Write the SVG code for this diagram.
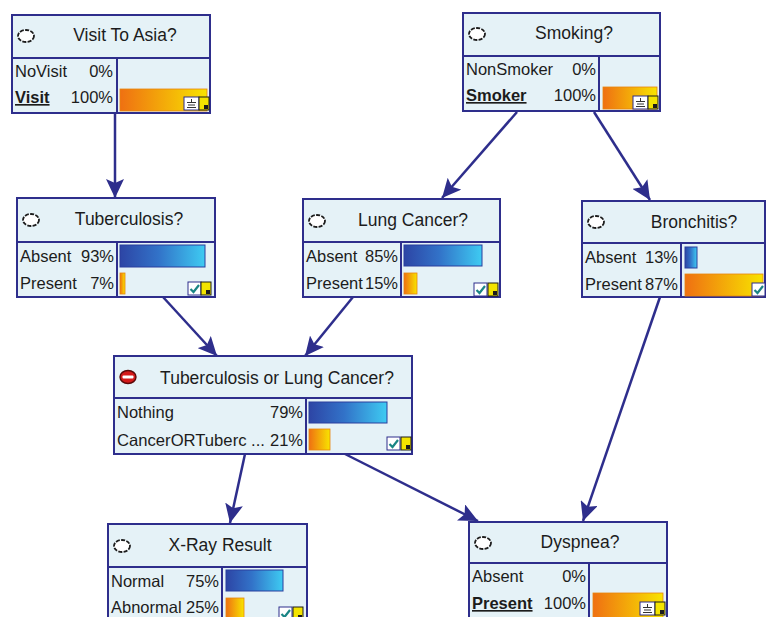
<svg xmlns="http://www.w3.org/2000/svg" width="766" height="617" viewBox="0 0 766 617">
  <style>
    .box { fill: #e5f2f7; stroke: #2e2e8c; stroke-width: 2; }
    .div { stroke: #2e2e8c; stroke-width: 2; fill: none; }
    text { font-family: "Liberation Sans", Arial, sans-serif; font-size: 16.5px; fill: #1c1c1c; }
    .title { text-anchor: middle; font-size: 17.5px; }
    .pct { text-anchor: end; }
    .sel { font-weight: bold; text-decoration: underline; }
    .blue { fill: url(#gBlue); stroke: #2a3e9e; stroke-width: 1; }
    .orange { fill: url(#gOrange); stroke: #e8860e; stroke-width: 0.8; }
    .state { fill: #ffffff; stroke: #1c1c1c; stroke-width: 1.8; stroke-dasharray: 4 1.3; }
    .ibox { fill: #ffffff; stroke: #2e2e8c; stroke-width: 1; }
    .ylw { fill: #f3e400; stroke: #1c1c1c; stroke-width: 1; }
    .tick { fill: none; stroke: #1a8585; stroke-width: 2.2; }
    .gnd { stroke: #333; stroke-width: 1; fill: none; }
    .edge { stroke: #2e2e8c; stroke-width: 2.5; fill: none; marker-end: url(#arrow); }
  </style>
  <defs>
    <linearGradient id="gBlue" x1="0" y1="0" x2="1" y2="0">
      <stop offset="0" stop-color="#2d45a5"/>
      <stop offset="0.45" stop-color="#3272c8"/>
      <stop offset="1" stop-color="#3ecbf2"/>
    </linearGradient>
    <linearGradient id="gOrange" x1="0" y1="0" x2="1" y2="0">
      <stop offset="0" stop-color="#ef7012"/>
      <stop offset="1" stop-color="#f8e400"/>
    </linearGradient>
    <marker id="arrow" markerUnits="userSpaceOnUse" markerWidth="20" markerHeight="18" viewBox="0 0 20 18" refX="19" refY="9" orient="auto">
      <path d="M0,0 L19,9 L0,18 L4,9 z" fill="#2e2e8c"/>
    </marker>
    <!-- small corner widgets reused on the nodes -->
    <g id="checkIcon">
      <rect class="ibox" x="0" y="0" width="13" height="13"/>
      <path class="tick" d="M2.5,7 L5.5,10 L11,3"/>
    </g>
    <g id="gndIcon">
      <rect class="ibox" x="0" y="0" width="15" height="13"/>
      <path class="gnd" d="M7.5,2 V5 M3,5.5 H12 M4,8 H11 M3,10.5 H12"/>
    </g>
    <g id="yIcon">
      <rect class="ylw" x="0" y="0" width="10" height="13"/>
      <rect x="5" y="8" width="4" height="4" fill="#1c1c1c"/>
    </g>
  </defs>

  <rect width="766" height="617" fill="#ffffff"/>

  <!-- connectors -->
  <g id="edges">
    <path class="edge" d="M115,113 L115,198"/>
    <path class="edge" d="M517,112 L442,198"/>
    <path class="edge" d="M594,112 L650,200"/>
    <path class="edge" d="M163,297 L217,356"/>
    <path class="edge" d="M353,297 L305,356"/>
    <path class="edge" d="M245,454 L230,523"/>
    <path class="edge" d="M345,454 L478,521"/>
    <path class="edge" d="M660,297 L583,521"/>
  </g>

  <!-- Visit To Asia -->
  <g id="visit">
    <rect class="box" x="12" y="15" width="198" height="98"/>
    <path class="div" d="M12,58 H210 M117,58 V113"/>
    <ellipse class="state" cx="26" cy="36" rx="8" ry="6"/>
    <text class="title" x="125" y="41">Visit To Asia?</text>
    <text x="15" y="77">NoVisit</text>
    <text class="pct" x="113" y="77">0%</text>
    <text class="sel" x="15" y="103">Visit</text>
    <text class="pct" x="113" y="103">100%</text>
    <rect class="orange" x="120" y="89" width="87" height="22"/>
    <use href="#gndIcon" x="184" y="97"/>
    <use href="#yIcon" x="199" y="97"/>
  </g>

  <!-- Smoking -->
  <g id="smoking">
    <rect class="box" x="463" y="13" width="197" height="98"/>
    <path class="div" d="M463,56 H660 M599,56 V111"/>
    <ellipse class="state" cx="477" cy="34" rx="8" ry="6"/>
    <text class="title" x="574" y="39">Smoking?</text>
    <text x="466" y="75">NonSmoker</text>
    <text class="pct" x="596" y="75">0%</text>
    <text class="sel" x="466" y="101">Smoker</text>
    <text class="pct" x="596" y="101">100%</text>
    <rect class="orange" x="603" y="87" width="54" height="22"/>
    <use href="#gndIcon" x="633" y="96"/>
    <use href="#yIcon" x="648" y="96"/>
  </g>

  <!-- Tuberculosis -->
  <g id="tuberculosis">
    <rect class="box" x="17" y="198" width="198" height="99"/>
    <path class="div" d="M17,242 H215 M117,242 V297"/>
    <ellipse class="state" cx="31" cy="220" rx="8" ry="6"/>
    <text class="title" x="129" y="225">Tuberculosis?</text>
    <text x="20" y="262">Absent</text>
    <text class="pct" x="114" y="262">93%</text>
    <text x="20" y="289">Present</text>
    <text class="pct" x="114" y="289">7%</text>
    <rect class="blue" x="120" y="245" width="85" height="22"/>
    <rect class="orange" x="120" y="273" width="5" height="21"/>
    <use href="#checkIcon" x="188" y="282"/>
    <use href="#yIcon" x="201" y="282"/>
  </g>

  <!-- Lung Cancer -->
  <g id="lungcancer">
    <rect class="box" x="303" y="199" width="197" height="98"/>
    <path class="div" d="M303,242 H500 M401,242 V297"/>
    <ellipse class="state" cx="317" cy="221" rx="8" ry="6"/>
    <text class="title" x="413" y="226">Lung Cancer?</text>
    <text x="306" y="262">Absent</text>
    <text class="pct" x="398" y="262">85%</text>
    <text x="306" y="289">Present</text>
    <text class="pct" x="398" y="289">15%</text>
    <rect class="blue" x="404" y="245" width="78" height="21"/>
    <rect class="orange" x="404" y="273" width="13" height="21"/>
    <use href="#checkIcon" x="474" y="283"/>
    <use href="#yIcon" x="488" y="283"/>
  </g>

  <!-- Bronchitis -->
  <g id="bronchitis">
    <rect class="box" x="582" y="201" width="183" height="96"/>
    <path class="div" d="M582,243 H765 M681,243 V297"/>
    <ellipse class="state" cx="596" cy="222" rx="8" ry="6"/>
    <text class="title" x="694" y="228">Bronchitis?</text>
    <text x="585" y="263">Absent</text>
    <text class="pct" x="678" y="263">13%</text>
    <text x="585" y="290">Present</text>
    <text class="pct" x="678" y="290">87%</text>
    <rect class="blue" x="685" y="247" width="12" height="21"/>
    <rect class="orange" x="685" y="274" width="78" height="22"/>
    <use href="#checkIcon" x="752" y="283"/>
  </g>

  <!-- Tuberculosis or Lung Cancer -->
  <g id="tborlc">
    <rect class="box" x="114" y="356" width="298" height="98"/>
    <path class="div" d="M114,398 H412 M306,398 V454"/>
    <ellipse cx="128" cy="377" rx="8" ry="6.5" fill="#d41a1a" stroke="#5a0a0a" stroke-width="1.4"/>
    <rect x="122.5" y="375.5" width="11" height="3" rx="1" fill="#ffffff"/>
    <text class="title" x="277" y="384">Tuberculosis or Lung Cancer?</text>
    <text x="117" y="418">Nothing</text>
    <text class="pct" x="303" y="418">79%</text>
    <text x="117" y="446" textLength="148" lengthAdjust="spacingAndGlyphs">CancerORTuberc ...</text>
    <text class="pct" x="303" y="446">21%</text>
    <rect class="blue" x="309" y="402" width="78" height="21"/>
    <rect class="orange" x="309" y="429" width="21" height="21"/>
    <use href="#checkIcon" x="387" y="437"/>
    <use href="#yIcon" x="401" y="437"/>
  </g>

  <!-- X-Ray Result -->
  <g id="xray">
    <rect class="box" x="108" y="524" width="199" height="110"/>
    <path class="div" d="M108,567 H307 M222,567 V630"/>
    <ellipse class="state" cx="122" cy="546" rx="8" ry="6"/>
    <text class="title" x="220" y="551">X-Ray Result</text>
    <text x="111" y="587">Normal</text>
    <text class="pct" x="219" y="587">75%</text>
    <text x="111" y="613">Abnormal</text>
    <text class="pct" x="219" y="613">25%</text>
    <rect class="blue" x="226" y="570" width="57" height="21"/>
    <rect class="orange" x="226" y="598" width="18" height="22"/>
    <use href="#checkIcon" x="279" y="607"/>
    <use href="#yIcon" x="293" y="607"/>
  </g>

  <!-- Dyspnea -->
  <g id="dyspnea">
    <rect class="box" x="469" y="522" width="198" height="110"/>
    <path class="div" d="M469,563 H667 M589,563 V630"/>
    <ellipse class="state" cx="483" cy="543" rx="8" ry="6"/>
    <text class="title" x="580" y="548">Dyspnea?</text>
    <text x="472" y="582">Absent</text>
    <text class="pct" x="586" y="582">0%</text>
    <text class="sel" x="472" y="609">Present</text>
    <text class="pct" x="586" y="609">100%</text>
    <rect class="orange" x="593" y="593" width="70" height="26"/>
    <use href="#gndIcon" x="640" y="602"/>
    <use href="#yIcon" x="655" y="602"/>
  </g>
</svg>
